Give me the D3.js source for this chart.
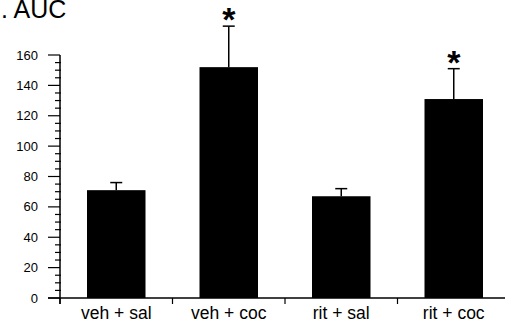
<!DOCTYPE html>
<html>
<head>
<meta charset="utf-8">
<script src="https://cdn.jsdelivr.net/npm/d3@7"></script>
<style>
  body { margin: 0; background: #fff; }
  svg { display: block; font-family: Arial, "Liberation Sans", sans-serif; }
</style>
</head>
<body>
<div id="chart"></div>
<script>
// data
var groups = ["veh + sal", "veh + coc", "rit + sal", "rit + coc"];
var auc = [71, 152, 67, 131];
var sem = [5, 27, 5, 20];
var signif = [false, true, false, true];
var yTicks = [0, 20, 40, 60, 80, 100, 120, 140, 160];

var width = 505, height = 324;

var svg = d3.select("#chart").append("svg")
  .attr("width", width)
  .attr("height", height);

var x = d3.scaleBand()
  .domain(groups)
  .range([60, 510])
  .paddingInner(0.48)
  .paddingOuter(0.24);

var y = d3.scaleLinear()
  .domain([0, 160])
  .range([298, 55]);

// title (panel letter is cut off in the original)
svg.append("text")
  .attr("x", 1)
  .attr("y", 18)
  .attr("font-size", 25)
  .attr("fill", "#000")
  .text(". AUC");

// y axis
var yAxis = svg.append("g").attr("transform", "translate(60,0)");
yAxis.append("line")
  .attr("x1", 0).attr("x2", 0)
  .attr("y1", y(160)).attr("y2", 304)
  .attr("stroke", "#000").attr("stroke-width", 1.5);

var minor = d3.range(0, 161, 5).filter(function(v) { return v % 20 !== 0; });
yAxis.selectAll(".minor")
  .data(minor)
  .enter().append("line")
  .attr("class", "minor")
  .attr("x1", -5).attr("x2", 1)
  .attr("y1", function(d) { return y(d); })
  .attr("y2", function(d) { return y(d); })
  .attr("stroke", "#000").attr("stroke-width", 1.2);

yAxis.selectAll(".major")
  .data(yTicks)
  .enter().append("line")
  .attr("class", "major")
  .attr("x1", -12).attr("x2", 0)
  .attr("y1", function(d) { return y(d); })
  .attr("y2", function(d) { return y(d); })
  .attr("stroke", "#000").attr("stroke-width", 1.2);

yAxis.selectAll(".ylab")
  .data(yTicks)
  .enter().append("text")
  .attr("class", "ylab")
  .attr("x", -22)
  .attr("y", function(d) { return y(d); })
  .attr("dy", "0.35em")
  .attr("text-anchor", "end")
  .attr("font-size", 13)
  .text(function(d) { return d; });

// x axis
var xAxis = svg.append("g");
xAxis.append("line")
  .attr("x1", 48).attr("x2", width)
  .attr("y1", y(0)).attr("y2", y(0))
  .attr("stroke", "#000").attr("stroke-width", 1.5);

var edges = groups.map(function(g) { return x(g) - x.step() * x.paddingInner() / 2; });
edges.push(x(groups[groups.length - 1]) + x.bandwidth() + x.step() * x.paddingInner() / 2);
xAxis.selectAll(".xtick")
  .data(edges)
  .enter().append("line")
  .attr("class", "xtick")
  .attr("x1", function(d) { return d; })
  .attr("x2", function(d) { return d; })
  .attr("y1", y(0)).attr("y2", y(0) + 6)
  .attr("stroke", "#000").attr("stroke-width", 1.2);

xAxis.selectAll(".xlab")
  .data(groups)
  .enter().append("text")
  .attr("class", "xlab")
  .attr("x", function(d) { return x(d) + x.bandwidth() / 2; })
  .attr("y", 319)
  .attr("text-anchor", "middle")
  .attr("font-size", 17.5)
  .text(function(d) { return d; });

// bars
svg.selectAll(".bar")
  .data(groups)
  .enter().append("rect")
  .attr("class", "bar")
  .attr("x", function(d) { return x(d); })
  .attr("width", x.bandwidth())
  .attr("y", function(d, i) { return y(auc[i]); })
  .attr("height", function(d, i) { return y(0) - y(auc[i]); })
  .attr("fill", "#000");

// error bars (upper only)
var err = svg.append("g");
groups.forEach(function(g, i) {
  var cx = x(g) + x.bandwidth() / 2;
  err.append("line")
    .attr("x1", cx).attr("x2", cx)
    .attr("y1", y(auc[i])).attr("y2", y(auc[i] + sem[i]))
    .attr("stroke", "#000").attr("stroke-width", 1.5);
  err.append("line")
    .attr("x1", cx - 6).attr("x2", cx + 6)
    .attr("y1", y(auc[i] + sem[i])).attr("y2", y(auc[i] + sem[i]))
    .attr("stroke", "#000").attr("stroke-width", 1.5);
  if (signif[i]) {
    err.append("text")
      .attr("x", cx)
      .attr("y", y(auc[i] + sem[i]) + 5)
      .attr("text-anchor", "middle")
      .attr("font-size", 34)
      .attr("font-weight", "bold")
      .text("*");
  }
});
</script>
</body>
</html>
